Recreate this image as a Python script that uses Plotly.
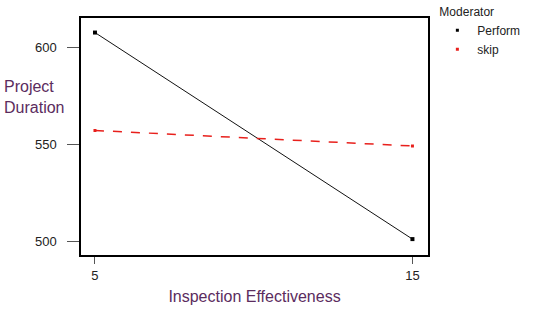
import plotly.graph_objects as go

effectiveness = [5, 15]
perform = [607.5, 501]
skip = [557, 549]
series_names = ["Perform", "skip"]
x_ticks = [5, 15]
y_ticks = [500, 550, 600]

fig = go.Figure()
fig.add_trace(go.Scatter(x=effectiveness, y=perform, mode="lines+markers",
                         line=dict(color="#111111", width=1),
                         marker=dict(symbol="square", size=4, color="#000000"),
                         showlegend=False))
fig.add_trace(go.Scatter(x=effectiveness, y=skip, mode="lines+markers",
                         line=dict(color="#e8201c", width=1.5, dash="dash"),
                         marker=dict(symbol="square", size=3, color="#e8201c"),
                         showlegend=False))
for name, col in zip(series_names, ["#000000", "#e8201c"]):
    fig.add_trace(go.Scatter(x=[None], y=[None], mode="markers", name=name,
                             marker=dict(symbol="square", size=3, color=col)))

purple = "#5b2c5e"
fig.update_layout(
    width=534, height=309,
    margin=dict(l=81, r=106, t=18, b=54, autoexpand=False),
    paper_bgcolor="white", plot_bgcolor="white",
    font=dict(family="Liberation Sans, Arial, sans-serif", size=13, color="#222222"),
    xaxis=dict(range=[4.56, 15.49], tickvals=x_ticks, ticks="outside", ticklen=7,
               tickcolor="#555555", showgrid=False, zeroline=False,
               showline=True, linecolor="#000000", linewidth=1.5, mirror=True,
               tickfont=dict(size=13, color="#222222"), ticklabelstandoff=1,
               title=dict(text="Inspection Effectiveness", font=dict(size=16, color=purple), standoff=8)),
    yaxis=dict(range=[492.8, 615], tickvals=y_ticks, ticks="outside", ticklen=12,
               tickcolor="#555555", showgrid=False, zeroline=False,
               showline=True, linecolor="#000000", linewidth=1.5, mirror=True,
               tickfont=dict(size=13, color="#222222"), ticklabelstandoff=8),
    legend=dict(x=1.027, y=1.075, xanchor="left", yanchor="top",
                title=dict(text="Moderator", font=dict(size=12, color="#222222"), side="top"),
                font=dict(size=12, color="#222222"), bgcolor="rgba(0,0,0,0)",
                itemwidth=30, tracegroupgap=0),
    annotations=[dict(text="Project<br>Duration", xref="paper", yref="paper",
                      x=-0.228, y=0.667, xanchor="left", yanchor="middle",
                      showarrow=False, align="left",
                      font=dict(size=16, color=purple))],
)
fig.write_html("out.html")
